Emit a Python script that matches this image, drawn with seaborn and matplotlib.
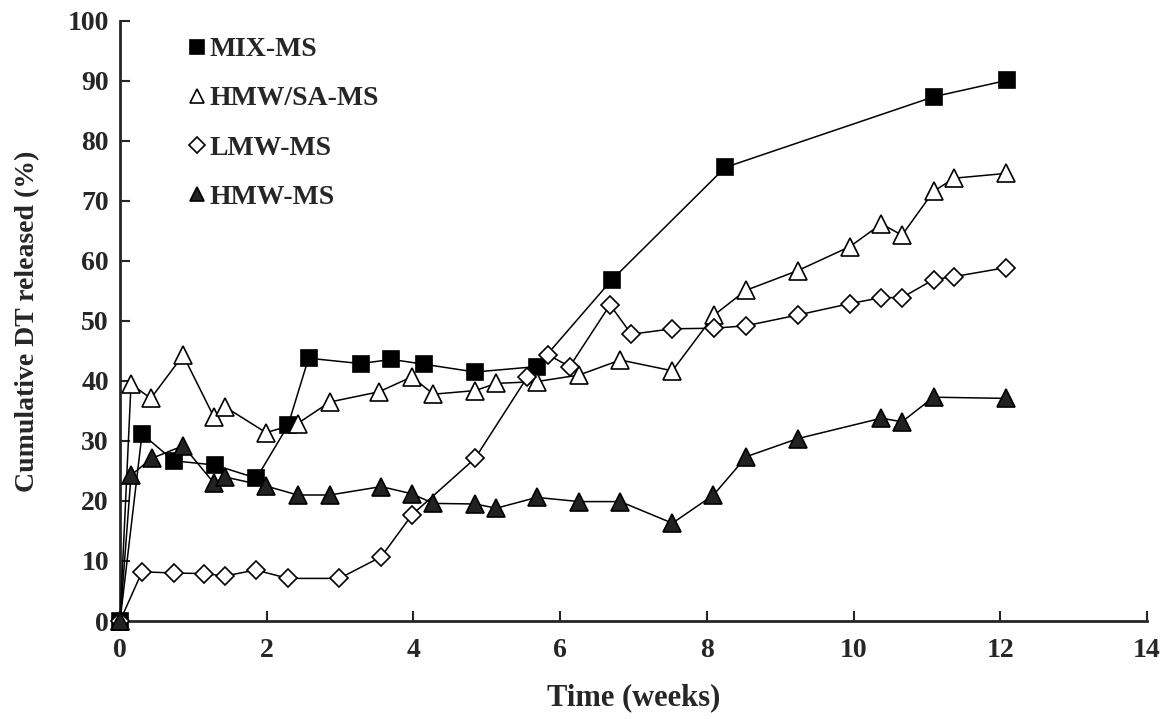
import pandas as pd
import matplotlib
matplotlib.use('Agg')
import matplotlib.pyplot as plt
import seaborn as sns

# values
mix_weeks = [0, 0.30, 0.73, 1.29, 1.86, 2.29, 2.57, 3.28, 3.70, 4.14, 4.84, 5.68, 6.70, 8.25, 11.10, 12.09]
mix_vals = [0, 31.2, 26.7, 26.0, 23.8, 32.6, 43.8, 42.9, 43.6, 42.8, 41.5, 42.4, 56.8, 75.6, 87.4, 90.1]

hmwsa_weeks = [0, 0.15, 0.42, 0.86, 1.28, 1.43, 1.99, 2.42, 2.86, 3.53, 3.98, 4.27, 4.84, 5.13,
               5.68, 6.26, 6.82, 7.53, 8.10, 8.53, 9.24, 9.95, 10.38, 10.66, 11.09, 11.37, 12.08]
hmwsa_vals = [0, 39.5, 37.1, 44.3, 34.0, 35.7, 31.4, 32.9, 36.5, 38.2, 40.7, 37.8, 38.4, 39.6,
              39.9, 41.0, 43.5, 41.7, 51.0, 55.1, 58.4, 62.4, 66.2, 64.3, 71.6, 73.8, 74.6]

lmw_weeks = [0, 0.30, 0.73, 1.15, 1.43, 1.85, 2.29, 2.99, 3.56, 3.98, 4.84, 5.55, 5.83, 6.13,
             6.68, 6.97, 7.53, 8.10, 8.53, 9.24, 9.95, 10.38, 10.66, 11.09, 11.37, 12.08]
lmw_vals = [0, 8.2, 8.0, 7.9, 7.5, 8.5, 7.1, 7.1, 10.7, 17.7, 27.1, 40.6, 44.4, 42.4,
            52.7, 47.8, 48.7, 48.8, 49.2, 51.0, 52.9, 53.9, 53.9, 56.9, 57.4, 58.9]

hmw_weeks = [0, 0.15, 0.43, 0.86, 1.28, 1.43, 1.99, 2.42, 2.86, 3.56, 3.98, 4.27, 4.84, 5.13,
             5.68, 6.26, 6.82, 7.53, 8.09, 8.54, 9.24, 10.38, 10.66, 11.09, 12.08]
hmw_vals = [0, 24.3, 27.1, 29.2, 23.0, 24.0, 22.5, 21.0, 21.0, 22.4, 21.2, 19.6, 19.5, 18.8,
            20.6, 19.9, 19.9, 16.3, 21.0, 27.4, 30.4, 33.8, 33.2, 37.3, 37.1]

series = [
    ('MIX-MS', mix_weeks, mix_vals, 's', 'black', 12),
    ('HMW/SA-MS', hmwsa_weeks, hmwsa_vals, '^', 'white', 12.5),
    ('LMW-MS', lmw_weeks, lmw_vals, 'D', 'white', 9),
    ('HMW-MS', hmw_weeks, hmw_vals, '^', '#222222', 12.5),
]

sns.set_style('ticks')
plt.rcParams['font.family'] = ['Liberation Serif', 'DejaVu Serif']
plt.rcParams['font.weight'] = 'bold'
plt.rcParams['axes.labelweight'] = 'bold'

fig, ax = plt.subplots(figsize=(11.71, 7.19), dpi=100)
fig.subplots_adjust(left=0.1025, right=0.9795, bottom=0.1363, top=0.9708)

for name, wk, val, mk, fc, ms in series:
    df = pd.DataFrame({'Time': wk, 'Released': val})
    sns.lineplot(data=df, x='Time', y='Released', ax=ax, color='black', lw=1.1,
                 marker=mk, markersize=ms, markerfacecolor=fc, markeredgecolor='black',
                 markeredgewidth=1.2, label=name, clip_on=False, zorder=3)

ax.set_xlim(0, 14)
ax.set_ylim(0, 100)
ax.set_xticks(range(0, 15, 2))
ax.set_yticks(range(0, 101, 10))
ax.tick_params(direction='in', length=7, width=1.5, labelsize=20)
ax.tick_params(axis='x', pad=12)
ax.tick_params(axis='y', pad=8)
for side in ['top', 'right']:
    ax.spines[side].set_visible(False)
for side in ['left', 'bottom']:
    ax.spines[side].set_linewidth(2.0)

ax.set_xlabel('Time (weeks)', fontsize=22, labelpad=15)
ax.set_ylabel('Cumulative DT released (%)', fontsize=20, labelpad=20)

leg = ax.legend(loc='upper left', bbox_to_anchor=(0.04, 1.015), frameon=False, fontsize=20,
                handlelength=0.8, handletextpad=0.05, labelspacing=0.85, markerscale=0.85)
for h in leg.legend_handles:
    h.set_linestyle('None')

plt.savefig('out.png', dpi=100)
